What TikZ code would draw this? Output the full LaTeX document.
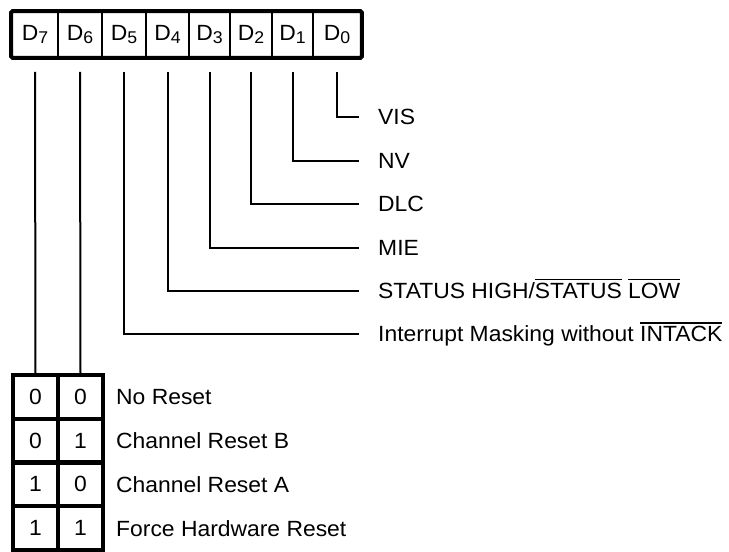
\documentclass[tikz,border=0pt]{standalone}
\usepackage{fontspec}
\setmainfont{Liberation Sans}[FakeStretch=1.04]
\newcommand{\myovl}[1]{\leavevmode\vbox{\hrule height 1.6pt\kern2.8pt\hbox{#1}}}
\newcommand{\dsub}[2]{#1{\fontsize{17}{17}\selectfont\raisebox{-2.5pt}{#2}}}
\begin{document}
\begin{tikzpicture}[x=1pt,y=-1pt,
  cell/.style={draw, line width=1.7pt, minimum height=45pt, inner sep=0pt, font=\fontsize{22}{22}\selectfont},
  wire/.style={line width=2pt},
  lbl/.style={anchor=west, inner xsep=0pt, inner ysep=0pt, text height=15.8pt, text depth=0pt, font=\fontsize{22}{22}\selectfont},
  tcell/.style={draw, line width=4pt, minimum width=45pt, minimum height=43.75pt, inner sep=0pt, font=\fontsize{22}{22}\selectfont}]
\useasboundingbox (0,0) rectangle (729,552);
% register cells
\node[cell, minimum width=46pt] (c7) at (35,34.5) {\dsub{D}{7}};
\node[cell, minimum width=44pt] (c6) at (80,34.5) {\dsub{D}{6}};
\node[cell, minimum width=44pt] (c5) at (124,34.5) {\dsub{D}{5}};
\node[cell, minimum width=43pt] (c4) at (167.5,34.5) {\dsub{D}{4}};
\node[cell, minimum width=41pt] (c3) at (209.5,34.5) {\dsub{D}{3}};
\node[cell, minimum width=42pt] (c2) at (251,34.5) {\dsub{D}{2}};
\node[cell, minimum width=41pt] (c1) at (292.5,34.5) {\dsub{D}{1}};
\node[cell, minimum width=48pt] (c0) at (337,34.5) {\dsub{D}{0}};
\draw[line width=4pt, rounded corners=1.5pt] (c7.north west) rectangle (c0.south east);
% labels
\node[lbl] (l0) at (378,117) {VIS};
\node[lbl] (l1) at (378,160.5) {NV};
\node[lbl] (l2) at (378,204) {DLC};
\node[lbl] (l3) at (378,247.5) {MIE};
\node[lbl] (l4) at (378,290.5) {STATUS HIGH/\myovl{STATUS} \myovl{LOW}};
\node[lbl] (l5) at (378,334) {Interrupt Masking without \myovl{INTACK}};
% wires
\draw[wire] ([yshift=-14pt]c0.south) |- ([xshift=-19pt]l0.west);
\draw[wire] ([yshift=-14pt]c1.south) |- ([xshift=-19pt]l1.west);
\draw[wire] ([yshift=-14pt]c2.south) |- ([xshift=-19pt]l2.west);
\draw[wire] ([yshift=-14pt]c3.south) |- ([xshift=-19pt]l3.west);
\draw[wire] ([yshift=-14pt]c4.south) |- ([xshift=-19pt]l4.west);
\draw[wire] ([yshift=-14pt]c5.south) |- ([xshift=-19pt]l5.west);
% reset table
\node[tcell] (r1a) at (35.5,396.9) {0};
\node[tcell] (r1b) at (80.5,396.9) {0};
\node[tcell] (r2a) at (35.5,440.6) {0};
\node[tcell] (r2b) at (80.5,440.6) {1};
\node[tcell] (r3a) at (35.5,484.4) {1};
\node[tcell] (r3b) at (80.5,484.4) {0};
\node[tcell] (r4a) at (35.5,528.1) {1};
\node[tcell] (r4b) at (80.5,528.1) {1};
\node[lbl] (b1) at (116,396.9) {No Reset};
\node[lbl] (b2) at (116,440.6) {Channel Reset B};
\node[lbl] (b3) at (116,484.4) {Channel Reset A};
\node[lbl] (b4) at (116,528.1) {Force Hardware Reset};
\draw[wire] ([yshift=-14pt]c7.south) -- (r1a.north);
\draw[wire] ([yshift=-14pt]c6.south) -- (r1b.north);
\end{tikzpicture}
\end{document}
